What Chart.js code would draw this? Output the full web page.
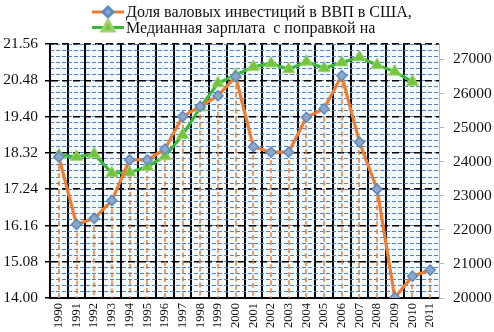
<!DOCTYPE html>
<html>
<head>
<meta charset="utf-8">
<script src="https://cdn.jsdelivr.net/npm/chart.js@4.4.1/dist/chart.umd.min.js"></script>
<style>
  html, body { margin: 0; padding: 0; background: #fff; }
  #wrap { width: 494px; height: 332px; }
</style>
</head>
<body>
<div id="wrap"><canvas id="chart"></canvas></div>
<script>
// годы
const years = ['1990', '1991', '1992', '1993', '1994', '1995', '1996', '1997', '1998', '1999', '2000',
  '2001', '2002', '2003', '2004', '2005', '2006', '2007', '2008', '2009', '2010', '2011'];

// доля валовых инвестиций в ВВП, %
const investShare = [18.2, 16.19, 16.37, 16.9, 18.11, 18.11, 18.43, 19.4, 19.7, 20.02, 20.59,
  18.5, 18.34, 18.34, 19.38, 19.63, 20.62, 18.64, 17.24, 14.01, 14.65, 14.83];

// медианная зарплата (правая ось)
const medianWage = [24190, 24140, 24220, 23660, 23680, 23850, 24160, 24780, 25590, 26300, 26540,
  26780, 26880, 26710, 26930, 26740, 26910, 27060, 26830, 26640, 26340, null];

// деления осей
const leftRange = [14.00, 21.56];
const leftStep = 1.08;
const leftMinorStep = 0.18;
const rightRange = [20000, 27450];
const rightTickValues = [20000, 21000, 22000, 23000, 24000, 25000, 26000, 27000];

const legendLabels = ['Доля валовых инвестиций в ВВП в США,', 'Медианная зарплата  с поправкой на'];

const serif = "'Liberation Serif', 'Times New Roman', serif";

// фон области построения
const plotBg = {
    id: 'plotBg',
    beforeDraw(chart) {
        const { ctx, chartArea: a } = chart;
        ctx.save();
        ctx.fillStyle = '#f4f9fd';
        ctx.fillRect(a.left, a.top, a.right - a.left, a.bottom - a.top);
        ctx.restore();
    }
};

// вертикальные линии проекции от точек до оси
const dropLines = {
    id: 'dropLines',
    beforeDatasetsDraw(chart) {
        const { ctx, chartArea: a } = chart;
        const meta = chart.getDatasetMeta(0);
        ctx.save();
        ctx.strokeStyle = '#ED7D31';
        ctx.lineWidth = 1.5;
        ctx.setLineDash([5, 3]);
        meta.data.forEach(p => {
            const x = Math.round(p.x);
            ctx.beginPath();
            ctx.moveTo(x, p.y);
            ctx.lineTo(x, a.bottom);
            ctx.stroke();
        });
        ctx.restore();
    }
};

// легенда: линия с маркером и подпись
const lineLegend = {
    id: 'lineLegend',
    afterDraw(chart) {
        const ctx = chart.ctx;
        ctx.save();
        chart.data.datasets.forEach((ds, i) => {
            const y = 12 + i * 15.5;
            ctx.strokeStyle = ds.borderColor;
            ctx.lineWidth = 3;
            ctx.setLineDash([]);
            ctx.beginPath();
            ctx.moveTo(92, y);
            ctx.lineTo(124, y);
            ctx.stroke();
            ctx.fillStyle = ds.pointBackgroundColor;
            ctx.strokeStyle = ds.pointBorderColor;
            Chart.helpers.drawPoint(ctx, {
                pointStyle: ds.pointStyle,
                radius: ds.pointRadius,
                rotation: 0,
                borderWidth: ds.pointBorderWidth
            }, 108, y);
            ctx.fillStyle = '#111';
            ctx.font = '16px ' + serif;
            ctx.textBaseline = 'middle';
            ctx.textAlign = 'left';
            ctx.fillText(legendLabels[i], 126, y + 1);
        });
        ctx.restore();
    }
};

new Chart(document.getElementById('chart'), {
    type: 'line',
    data: {
        labels: years,
        datasets: [{
            label: legendLabels[0],
            data: investShare,
            yAxisID: 'y',
            borderColor: '#ED7D31',
            borderWidth: 3.2,
            pointStyle: 'rectRot',
            pointRadius: 5,
            pointBackgroundColor: '#8FA6C4',
            pointBorderColor: '#5B8BC5',
            pointBorderWidth: 1.5,
            tension: 0
        }, {
            label: legendLabels[1],
            data: medianWage,
            yAxisID: 'y1',
            borderColor: '#3DB83D',
            borderWidth: 3.2,
            pointStyle: 'triangle',
            pointRadius: 7,
            pointBackgroundColor: '#72C53C',
            pointBorderColor: '#9ED46E',
            pointBorderWidth: 1,
            tension: 0
        }]
    },
    options: {
        responsive: true,
        maintainAspectRatio: false,
        animation: false,
        layout: { padding: { top: 44, left: 2, right: 2, bottom: 0 } },
        plugins: {
            legend: { display: false },
            tooltip: { enabled: false }
        },
        scales: {
            x: {
                offset: true,
                afterFit: s => { s.height = 34; },
                grid: {
                    offset: true,
                    color: c => c.type === 'tick' ? '#000' : '#b5b5b5',
                    lineWidth: c => c.type === 'tick' ? 2 : 1,
                    drawTicks: false
                },
                border: { color: '#000', width: 2 },
                ticks: {
                    color: '#111',
                    font: { family: serif, size: 12.5 },
                    minRotation: 90,
                    maxRotation: 90,
                    autoSkip: false,
                    padding: 5
                }
            },
            yMinor: {
                type: 'linear',
                position: 'left',
                min: leftRange[0],
                max: leftRange[1],
                bounds: 'data',
                ticks: { display: false, stepSize: leftMinorStep, maxTicksLimit: 100 },
                grid: { color: '#4F86C6', lineWidth: 1, drawTicks: false, z: -1 },
                border: { display: false, dash: [4, 2] }
            },
            y: {
                type: 'linear',
                position: 'left',
                min: leftRange[0],
                max: leftRange[1],
                bounds: 'data',
                afterFit: s => { s.width = 48; },
                ticks: {
                    stepSize: leftStep,
                    color: '#111',
                    font: { family: serif, size: 15.5 },
                    padding: 7,
                    callback: v => Number(v).toFixed(2)
                },
                grid: { color: '#000', lineWidth: 1.5, tickLength: 5, tickColor: '#000' },
                border: { color: '#000', width: 2, dash: [7, 4] }
            },
            y1: {
                type: 'linear',
                position: 'right',
                min: rightRange[0],
                max: rightRange[1],
                bounds: 'data',
                afterFit: s => { s.width = 53; },
                afterBuildTicks: s => {
                    s.ticks = rightTickValues.map(value => ({ value }));
                },
                ticks: {
                    color: '#111',
                    font: { family: serif, size: 15.5 },
                    padding: 9,
                    callback: v => String(v)
                },
                grid: { drawOnChartArea: false, color: '#b5b5b5', tickLength: 5 },
                border: { color: '#b5b5b5', width: 1 }
            }
        }
    },
    plugins: [plotBg, dropLines, lineLegend]
});
</script>
</body>
</html>
